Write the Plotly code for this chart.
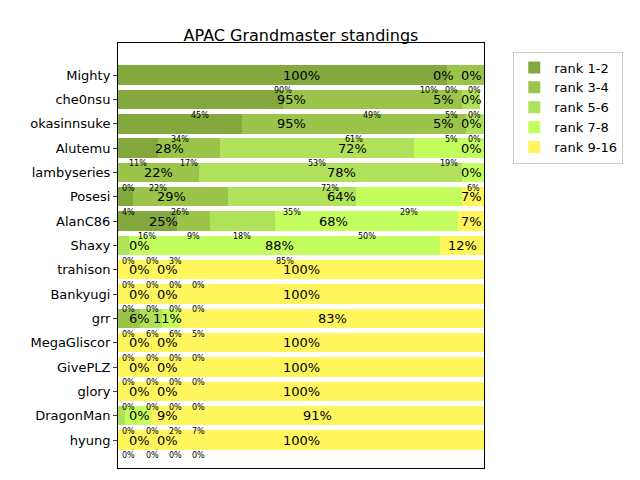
import plotly.graph_objects as go

players = ["Mighty","che0nsu","okasinnsuke","Alutemu","lambyseries","Posesi","AlanC86","Shaxy",
           "trahison","Bankyugi","grr","MegaGliscor","GivePLZ","glory","DragonMan","hyung"]
series = ["rank 1-2","rank 3-4","rank 5-6","rank 7-8","rank 9-16"]
colors = ["#83a83e","#9bc54a","#b0e15a","#c4fd5e","#fff55c"]
r12 = [90,45,34,11,0,4,16,0,0,0,0,0,0,0,0,0]
r34 = [10,49,61,17,22,26,9,0,0,0,6,0,0,0,0,0]
r56 = [0,5,5,53,72,35,18,3,0,0,6,0,0,0,2,0]
r78 = [0,0,0,19,6,29,50,85,0,0,5,0,0,0,7,0]
r916 = [0,0,0,0,0,6,7,12,100,100,83,100,100,100,91,100]
# grouped labels: ranks 1-4, 5-8, 9-16
g1 = [100,95,95,28,22,29,25,0,0,0,6,0,0,0,0,0]
g2 = [0,5,5,72,78,64,68,88,0,0,11,0,0,0,9,0]
g3 = [0,0,0,0,0,7,7,12,100,100,83,100,100,100,91,100]

vals = [r12, r34, r56, r78, r916]
ys = list(range(len(players)))
fig = go.Figure()
for name, v, c in zip(series, vals, colors):
    fig.add_bar(y=ys, x=v, name=name, orientation="h", marker=dict(color=c, line_width=0), width=0.8)


def spread(centers, lo, hi, gap):
    pos = []
    prev = lo - gap
    for c in centers:
        p = max(c, prev + gap)
        pos.append(p); prev = p
    nxt = hi + gap
    for j in range(len(pos) - 1, -1, -1):
        pos[j] = min(pos[j], nxt - gap); nxt = pos[j]
    return pos


ann = []
for i in ys:
    cum = 0; cs = []; tx = []
    for k in range(4):
        v = vals[k][i]; cs.append(cum + v / 2); tx.append(v); cum += v
    for p, v in zip(spread(cs, 3.0, 97.5, 6.3), tx):
        ann.append(dict(x=p, y=i + 0.38, text=f"{v}%", showarrow=False, xanchor="center",
                        yanchor="top", font=dict(size=8, color="black")))
    cum = 0; cs = []; tx = []
    for g in (g1, g2, g3):
        v = g[i]; cs.append(cum + v / 2); tx.append(v); cum += v
    for p, v in zip(spread(cs, 6.0, 96.5, 7.5), tx):
        ann.append(dict(x=p, y=i, text=f"{v}%", showarrow=False, font=dict(size=13, color="black")))

fig.update_layout(
    barmode="stack", width=640, height=480, plot_bgcolor="white", paper_bgcolor="white",
    margin=dict(l=110, r=164, t=35, b=20, autoexpand=False),
    font=dict(family="DejaVu Sans", color="black"),
    title=dict(text="APAC Grandmaster standings", x=(110+183)/640, xanchor="center", y=0.955, font=dict(size=16)),
    annotations=ann, bargap=0.2,
    legend=dict(x=1.08, y=0.98, xanchor="left", yanchor="top", bordercolor="#cccccc", borderwidth=1,
                font=dict(size=13), traceorder="normal"),
)
fig.update_xaxes(range=[0, 100], showticklabels=False, ticks="", showgrid=False, zeroline=False,
                 showline=True, mirror=True, linecolor="black", linewidth=1, automargin=False)
fig.update_yaxes(tickvals=ys, ticktext=players, range=[16.15, -1.32], ticks="outside", ticklen=4,
                 showgrid=False, zeroline=False, showline=True, mirror=True, linecolor="black", linewidth=1,
                 tickfont=dict(size=13), automargin=False)
fig.write_html("out.html")
